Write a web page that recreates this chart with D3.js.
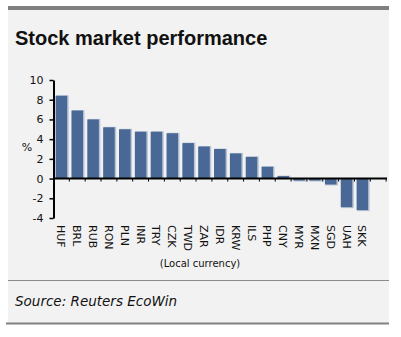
<!DOCTYPE html>
<html>
<head>
<meta charset="utf-8">
<script src="https://cdn.jsdelivr.net/npm/d3@7"></script>
<style>
  body { margin: 0; background: #fff; }
  text { font-family: "DejaVu Sans", sans-serif; }
</style>
</head>
<body>
<div id="main"></div>
<script>
const currencies = ["HUF", "BRL", "RUB", "RON", "PLN", "INR", "TRY", "CZK", "TWD", "ZAR",
  "IDR", "KRW", "ILS", "PHP", "CNY", "MYR", "MXN", "SGD", "UAH", "SKK"];
const performance = [8.4, 6.9, 6.0, 5.2, 5.0, 4.75, 4.75, 4.6, 3.6, 3.25,
  3.0, 2.55, 2.2, 1.2, 0.25, -0.2, -0.2, -0.6, -2.9, -3.2];
const yTicks = [-4, -2, 0, 2, 4, 6, 8, 10];

const W = 401, H = 337;
const svg = d3.select("#main").append("svg").attr("width", W).attr("height", H);

// panel
svg.append("rect").attr("x", 8).attr("y", 6).attr("width", 381).attr("height", 318).attr("fill", "#f2f2f2");
svg.append("rect").attr("x", 8).attr("y", 6).attr("width", 381).attr("height", 4).attr("fill", "#808080");
svg.append("line").attr("x1", 8).attr("x2", 389).attr("y1", 280.5).attr("y2", 280.5)
  .attr("stroke", "#8a8a8a").attr("stroke-width", 1);
svg.append("rect").attr("x", 6).attr("y", 322.5).attr("width", 383).attr("height", 2).attr("fill", "#808080");

svg.append("text").attr("x", 15).attr("y", 45)
  .style("font-family", "'Liberation Sans', Arial, sans-serif")
  .attr("font-size", 20).attr("font-weight", "bold").attr("fill", "#111")
  .text("Stock market performance");

svg.append("text").attr("x", 15).attr("y", 306)
  .attr("font-size", 13.5).attr("font-style", "italic").attr("fill", "#111")
  .text("Source: Reuters EcoWin");

// scales
const step = 15.84, x0 = 53.5;
const x = d3.scaleBand().domain(currencies)
  .range([x0, x0 + step * currencies.length]).paddingInner(0.27).paddingOuter(0.135);
const y = d3.scaleLinear().domain([-4, 10]).range([218, 80]);

// bars (with light edge)
const bars = svg.append("g");
bars.selectAll(".sh").data(currencies).join("rect")
  .attr("x", d => x(d) + 0.5)
  .attr("y", (d, i) => Math.min(y(performance[i]), y(0)) + (performance[i] < 0 ? 0 : -0.5))
  .attr("width", x.bandwidth() + 1)
  .attr("height", (d, i) => Math.abs(y(performance[i]) - y(0)) + 1)
  .attr("fill", "#b9c5d6");
bars.selectAll(".b").data(currencies).join("rect")
  .attr("x", d => x(d))
  .attr("y", (d, i) => Math.min(y(performance[i]), y(0)))
  .attr("width", x.bandwidth())
  .attr("height", (d, i) => Math.abs(y(performance[i]) - y(0)))
  .attr("fill", "#4a6895");

// y axis
const yAxis = d3.axisLeft(y).tickValues(yTicks).tickFormat(d => String(d))
  .tickSize(4).tickPadding(6).tickSizeOuter(0);
const gy = svg.append("g").attr("transform", `translate(${x0},0)`).call(yAxis);
gy.select(".domain").attr("stroke", "#000").attr("stroke-width", 2);
gy.selectAll(".tick line").attr("stroke", "#000").attr("stroke-width", 1.5);
gy.selectAll(".tick text").attr("font-size", 11).attr("fill", "#111")
  .attr("font-family", "'DejaVu Sans', sans-serif");

svg.append("text").attr("x", 27).attr("y", 151).attr("text-anchor", "middle")
  .attr("font-size", 11).attr("fill", "#111").text("%");

// x axis at zero
const xEnd = 387;
svg.append("line").attr("x1", x0).attr("x2", xEnd).attr("y1", y(0)).attr("y2", y(0))
  .attr("stroke", "#000").attr("stroke-width", 2);
svg.append("g").selectAll("line").data(d3.range(1, 22)).join("line")
  .attr("x1", i => x0 + i * step).attr("x2", i => x0 + i * step)
  .attr("y1", y(0)).attr("y2", y(0) + 3)
  .attr("stroke", "#000").attr("stroke-width", 1);

svg.append("g").selectAll("text").data(currencies).join("text")
  .attr("transform", d => `translate(${x(d) + x.bandwidth() / 2 - 4},225) rotate(90)`)
  .attr("font-size", 11).attr("fill", "#111")
  .text(d => d);

svg.append("text").attr("x", 200).attr("y", 267).attr("text-anchor", "middle")
  .attr("font-size", 10).attr("fill", "#111").text("(Local currency)");
</script>
</body>
</html>
